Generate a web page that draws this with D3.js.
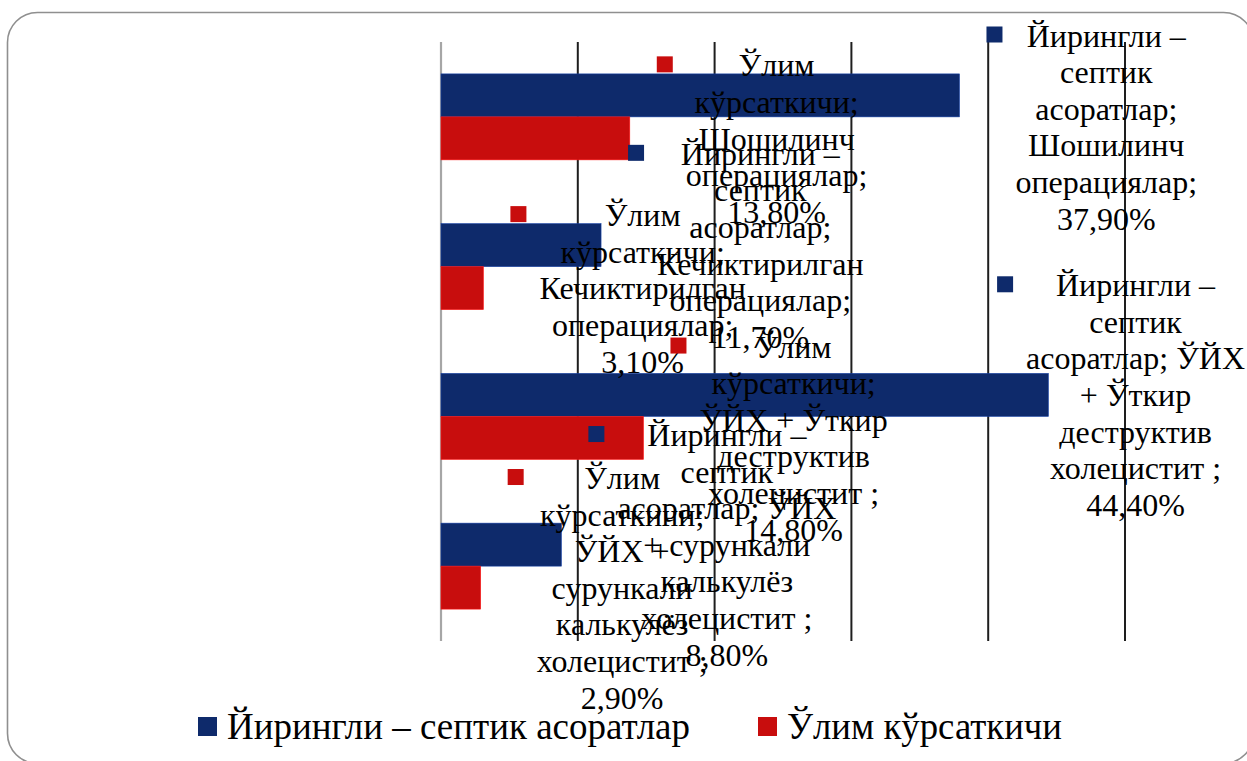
<!DOCTYPE html>
<html>
<head>
<meta charset="utf-8">
<script src="https://cdn.jsdelivr.net/npm/d3@7"></script>
<style>
  html, body { margin: 0; padding: 0; background: #fff; }
  svg { display: block; }
</style>
</head>
<body>
<svg id="chart" width="1247" height="761"></svg>
<script>
// Categories, top to bottom
const categories = [
  "Шошилинч операциялар",
  "Кечиктирилган операциялар",
  "ЎЙХ + Ўткир деструктив холецистит ",
  "ЎЙХ + сурункали калькулёз холецистит "
];
const seriesNames = ["Йирингли – септик асоратлар", "Ўлим кўрсаткичи"];
// Values in percent
const septicValues = [37.9, 11.7, 44.4, 8.8];
const mortalityValues = [13.8, 3.1, 14.8, 2.9];
const xTicks = [0, 10, 20, 30, 40, 50];
const seriesColors = ["#0e2a6b", "#c80d0d"];

const FONT = "'Liberation Serif', Tinos, 'DejaVu Serif', 'Times New Roman', serif";

const series = [
  { name: seriesNames[0], values: septicValues, color: seriesColors[0] },
  { name: seriesNames[1], values: mortalityValues, color: seriesColors[1] }
];

const svg = d3.select("#chart");

// Rounded outer frame
svg.append("rect")
  .attr("x", 7.5).attr("y", 12.5)
  .attr("width", 1246).attr("height", 751)
  .attr("rx", 30).attr("ry", 30)
  .attr("fill", "#fff")
  .attr("stroke", "#8f8f8f").attr("stroke-width", 1.6);

const plot = { left: 441, right: 1125, top: 42, bottom: 641 };
const area = { top: 17, right: 1245 };

const x = d3.scaleLinear().domain([0, 50]).range([plot.left, plot.right]);
const y = d3.scaleBand().domain(categories)
  .range([plot.top, plot.bottom])
  .paddingInner(0.426).paddingOuter(0.213);
const half = y.bandwidth() / 2;

// Vertical gridlines
svg.append("g").selectAll("line")
  .data(xTicks.filter(t => t > 0))
  .join("line")
  .attr("x1", d => x(d)).attr("x2", d => x(d))
  .attr("y1", plot.top).attr("y2", plot.bottom)
  .attr("stroke", "#1e1e1e").attr("stroke-width", 2);

// Category axis line
svg.append("line")
  .attr("x1", x(0)).attr("x2", x(0))
  .attr("y1", plot.top).attr("y2", plot.bottom)
  .attr("stroke", "#a6a6a6").attr("stroke-width", 2.2);

// Bars
series.forEach((s, si) => {
  svg.append("g").selectAll("rect")
    .data(categories)
    .join("rect")
    .attr("x", x(0))
    .attr("y", c => y(c) + si * half)
    .attr("width", (c, i) => x(s.values[i]) - x(0))
    .attr("height", half)
    .attr("fill", s.color)
    .attr("stroke", d3.color(s.color).brighter(1.2))
    .attr("stroke-width", 0.6);
});

// Data labels: legend key + wrapped "series; category; value"
const LABEL_FONT = 32, LINE_H = 36.6, FIRST_BASE = 29.5;
const KEY = 16, KEY_GAP = 13, BAR_GAP = 27, WRAP_W = 224;
const fmt = v => d3.format(".2f")(v).replace(".", ",") + "%";

const measure = svg.append("text")
  .attr("font-family", FONT).attr("font-size", LABEL_FONT)
  .attr("visibility", "hidden");
const textWidth = s => { measure.text(s); return measure.node().getComputedTextLength(); };

function wrap(str) {
  const words = str.split(" ").filter(w => w.length);
  const lines = [];
  let cur = "";
  words.forEach(w => {
    const test = cur ? cur + " " + w : w;
    if (cur && textWidth(test) > WRAP_W) { lines.push(cur); cur = w; }
    else cur = test;
  });
  if (cur) lines.push(cur);
  return lines;
}

const labels = svg.append("g");
series.forEach((s, si) => {
  categories.forEach((c, i) => {
    const v = s.values[i];
    const lines = wrap(s.name + "; " + c + "; " + fmt(v));
    const maxW = d3.max(lines, textWidth);
    const boxW = KEY + KEY_GAP + maxW;
    const boxH = lines.length * LINE_H;
    const left = Math.min(x(v) + BAR_GAP, area.right - boxW);
    const cy = y(c) + si * half + half / 2;
    const top = Math.max(cy - boxH / 2, area.top);
    const base = top + FIRST_BASE;
    const g = labels.append("g");
    g.append("rect")
      .attr("x", left).attr("y", base - 20)
      .attr("width", KEY).attr("height", KEY)
      .attr("fill", s.color);
    const cx = left + KEY + KEY_GAP + maxW / 2;
    g.append("text")
      .attr("font-family", FONT)
      .attr("font-size", LABEL_FONT)
      .attr("fill", "#000")
      .attr("text-anchor", "middle")
      .selectAll("tspan")
      .data(lines)
      .join("tspan")
      .attr("x", cx)
      .attr("y", (d, k) => base + k * LINE_H)
      .text(d => d);
  });
});
measure.remove();

// Legend
const legendItems = [
  { name: seriesNames[0], color: seriesColors[0], x: 198, w: 463 },
  { name: seriesNames[1], color: seriesColors[1], x: 758, w: 275 }
];
const legend = svg.append("g");
legendItems.forEach(it => {
  legend.append("rect")
    .attr("x", it.x).attr("y", 717)
    .attr("width", 19).attr("height", 19)
    .attr("fill", it.color);
  legend.append("text")
    .attr("x", it.x + 29).attr("y", 739)
    .attr("font-family", FONT)
    .attr("font-size", 37)
    .attr("fill", "#000")
    .attr("textLength", it.w)
    .attr("lengthAdjust", "spacingAndGlyphs")
    .text(it.name);
});
</script>
</body>
</html>
